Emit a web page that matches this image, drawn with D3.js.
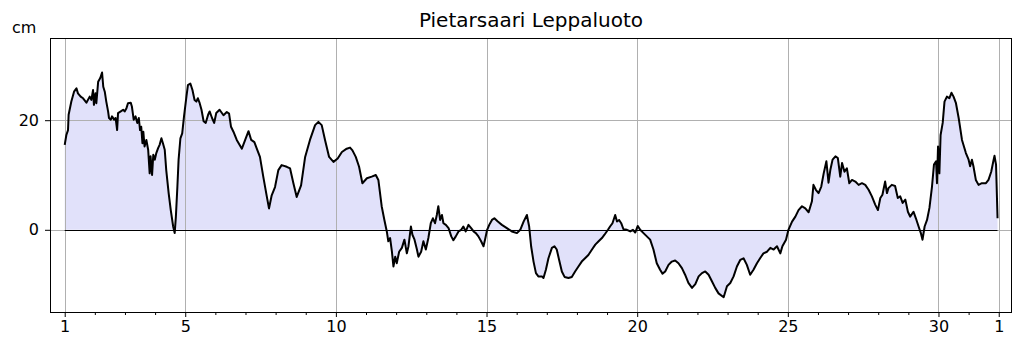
<!DOCTYPE html>
<html><head><meta charset="utf-8">
<script src="https://cdn.jsdelivr.net/npm/d3@7"></script>
<style>body{margin:0;background:#fff} text{font-family:"DejaVu Sans",sans-serif}</style>
</head><body><svg id="c" width="1024" height="352"></svg>
<script>
const chartTitle = "Pietarsaari Leppaluoto";
const unitLabel = "cm";
const xTickDays = [1,5,10,15,20,25,30,32];
const xTickLabels = ["1","5","10","15","20","25","30","1"];
const yTicks = [0,20];
// time in days of month (1 = start of day 1), water level in cm
const days = [
1.00,1.055,1.11,1.13,1.22,1.31,1.39,1.44,1.53,1.61,1.72,1.83,1.885,1.94,1.97,2.02,2.05,2.11,2.18,2.24,2.28,2.33,2.38,2.44,2.47,2.53,2.57,2.64,2.69,2.74,2.77,2.86,2.94,2.99,3.05,3.10,3.19,3.23,3.29,3.35,3.41,3.46,3.50,3.54,3.58,3.61,3.65,3.71,3.77,3.82,3.85,3.90,3.94,3.99,4.04,4.10,4.15,4.21,4.26,4.32,4.37,4.45,4.52,4.60,4.65,4.69,4.74,4.78,4.84,4.90,4.96,5.04,5.09,5.17,5.24,5.31,5.37,5.42,5.48,5.54,5.61,5.68,5.76,5.81,5.89,5.96,6.03,6.14,
6.27,6.38,6.455,6.52,6.60,6.71,6.88,6.99,7.10,7.19,7.295,7.375,7.48,7.59,7.71,7.78,7.87,7.98,8.09,8.20,8.37,8.48,8.59,8.70,8.845,8.98,9.14,9.31,9.42,9.53,9.64,9.775,9.92,10.06,10.20,10.36,10.47,10.55,10.66,10.77,10.88,11.03,11.19,11.325,11.41,
11.52,11.61,11.69,11.74,11.80,11.86,11.91,11.97,12.02,12.10,12.19,12.275,12.355,12.41,12.49,12.54,12.61,12.69,12.74,12.83,12.905,12.985,13.07,13.15,13.22,13.29,13.35,13.40,13.46,13.52,13.57,13.65,13.74,13.83,13.90,13.98,14.07,14.16,14.23,14.31,14.40,14.49,14.57,14.645,14.73,14.82,14.90,14.95,15.02,15.09,15.18,15.26,15.375,15.51,15.675,15.84,16.01,16.12,16.23,16.34,16.415,16.48,16.56,16.64,16.72,
16.84,16.89,16.97,17.055,17.17,17.255,17.33,17.41,17.50,17.59,17.72,17.83,17.94,18.05,18.16,18.27,18.38,18.50,18.61,18.72,18.83,18.915,19.03,19.10,19.18,19.27,19.33,19.40,19.47,19.545,19.66,19.77,19.86,19.935,20.02,20.10,20.21,20.32,20.43,20.54,20.65,20.76,20.84,20.93,21.04,21.15,21.26,21.37,21.485,21.59,21.70,21.82,21.93,22.04,
22.15,22.26,22.37,22.48,22.59,22.70,22.87,22.98,23.09,23.20,23.31,23.42,23.53,23.64,23.75,23.86,23.975,24.08,24.19,24.31,24.42,24.53,24.64,24.75,24.82,24.94,25.02,25.14,25.25,25.355,25.47,25.58,25.69,25.80,25.85,25.93,26.02,26.11,26.19,26.28,26.35,26.41,26.485,26.58,26.66,26.74,26.80,26.88,26.96,27.04,27.13,27.24,27.35,
27.46,27.57,27.68,27.79,27.90,27.99,28.07,28.14,28.23,28.29,28.34,28.45,28.56,28.65,28.73,28.81,28.90,28.985,29.06,29.17,29.25,29.34,29.42,29.47,29.54,29.62,29.70,29.785,29.85,29.92,29.95,29.985,30.03,30.07,30.14,30.20,30.28,30.36,30.43,30.50,30.58,30.67,30.78,30.91,31.00,31.05,31.11,31.16,31.24,31.33,31.44,31.575,31.66,31.75,31.82,31.86,31.91,31.96
];
const levels = [
15.5,17.3,18.2,21,23.4,25.2,25.8,24.9,24.3,24,23.2,24.3,23.7,25.5,22.8,24.9,23.1,27,27.7,28.7,26.1,25.2,23.4,21.6,20.4,20.1,20.7,20.1,20.4,18.2,21.3,21.6,21.9,21.6,22.2,23.1,23.2,22.5,20.1,20.7,19.5,20.4,18.2,18.8,15.8,17.9,15.2,16.4,14.6,10.3,13.4,10.0,13.7,12.8,14.0,14.9,15.5,16.7,15.8,14.6,10.9,6.7,3.6,0.6,-0.6,2.4,7.9,12.8,16.7,17.6,20.7,24.3,26.4,26.7,25.5,23.7,23.4,24,23.1,21.9,19.8,19.5,21,21.6,20.4,19.5,21.3,21.9,
20.9,21.5,21.2,18.8,17.9,16.4,14.8,16.4,18.0,16.4,16.0,14.8,13.3,9.7,6.0,3.9,6.3,7.8,10.9,11.8,11.5,11.2,8.5,6.0,8.1,13.3,16.4,19.1,19.7,19.1,16.4,13.3,12.4,13.0,14.2,14.8,15.0,14.5,13.3,11.5,8.5,9.4,9.7,10.0,9.1,
4.3,1.8,-0.3,-2.1,-1.5,-4.0,-6.7,-4.9,-6.1,-4.0,-3.3,-1.8,-4.3,-3.0,0.6,-0.9,-1.8,-3.6,-4.9,-4.0,-2.1,-3.6,-1.5,1.2,2.1,1.2,2.7,4.3,1.8,2.7,1.2,0.9,0.3,-1.2,-1.9,-1.2,-0.3,0,0.6,-0.3,0.9,0.3,-0.3,-0.6,-1.2,-2.1,-3.0,-1.8,0,0.9,1.8,2.1,1.5,0.9,0.3,-0.3,-0.6,0,1.5,2.7,0.6,-3.0,-5.8,-7.9,-8.5,
-8.5,-8.8,-7.3,-5.2,-3.3,-3.0,-3.6,-5.5,-7.6,-8.6,-8.8,-8.6,-7.6,-6.7,-5.8,-5.2,-4.6,-3.6,-2.7,-2.1,-1.5,-0.9,0,0.6,1.2,2.7,1.5,1.8,1.2,0.1,0,-0.3,0,-0.5,0.7,0,-0.6,-1.2,-1.8,-3.6,-6.1,-7.3,-8.0,-7.6,-6.4,-5.8,-5.6,-6.1,-7.0,-8.2,-9.7,-10.6,-9.9,-8.5,
-7.9,-7.6,-8.2,-9.4,-10.6,-11.6,-12.3,-10.3,-9.7,-8.5,-6.7,-5.5,-5.2,-6.4,-8.2,-7.3,-6.1,-5.2,-4.3,-4.0,-3.3,-3.6,-3.0,-4.3,-3.0,-1.8,0,1.5,2.4,3.6,4.3,3.9,3.2,5.2,8.2,7.3,6.7,7.9,10.3,12.5,8.6,10.9,12.8,13.4,13.1,9.7,12.2,10.6,11.2,8.5,9.1,8.8,8.2,
8.5,8.2,7.3,6.1,4.6,3.6,5.8,6.4,8.8,6.7,7.6,8.2,8.0,5.8,6.1,4.9,5.5,3.3,2.4,3.3,2.1,0.6,-0.7,-1.8,0.6,1.8,4.0,7.9,11.9,12.5,8.5,15.2,10.3,17.3,19.5,23.4,24.3,24.0,25.0,24.3,23.1,20.4,16.4,14.0,12.8,11.6,12.8,11.6,9.1,8.2,8.5,8.5,9.1,10.6,12.5,13.5,11.9,2.1
];

const svg = d3.select("#c");
const L = 50, R = 1012, T = 38, B = 312;
const x = d3.scaleLinear().domain([0.512, 32.44]).range([L, R]);
const y = d3.scaleLinear().domain([-15, 35]).range([B, T]);
const data = days.map((d, i) => ({t: d, v: levels[i]}));

// fill
svg.append("path").datum(data)
  .attr("fill", "#e1e1fa")
  .attr("d", d3.area().x(d => x(d.t)).y0(y(0)).y1(d => y(d.v)));

// grid
const grid = svg.append("g").attr("stroke", "#b0b0b0").attr("stroke-width", 1);
xTickDays.forEach(d => grid.append("line").attr("x1", Math.round(x(d))+0.5).attr("x2", Math.round(x(d))+0.5).attr("y1", T).attr("y2", B));
yTicks.forEach(v => grid.append("line").attr("x1", L).attr("x2", R).attr("y1", Math.round(y(v))+0.5).attr("y2", Math.round(y(v))+0.5));

// zero line
svg.append("line").attr("x1", x(days[0])).attr("x2", x(days[days.length-1]))
  .attr("y1", Math.round(y(0))+0.5).attr("y2", Math.round(y(0))+0.5)
  .attr("stroke", "#000").attr("stroke-width", 1.2);

// data line
svg.append("path").datum(data)
  .attr("fill", "none").attr("stroke", "#000").attr("stroke-width", 2)
  .attr("stroke-linejoin", "round")
  .attr("d", d3.line().x(d => x(d.t)).y(d => y(d.v)));

// axes
const xAxis = d3.axisBottom(x).tickValues(xTickDays).tickFormat((d, i) => xTickLabels[i]).tickSize(5).tickPadding(4);
const gx = svg.append("g").attr("transform", `translate(0,${B})`).call(xAxis);
const minorDays = d3.range(1, 33).filter(d => !xTickDays.includes(d));
svg.append("g").attr("transform", `translate(0,${B})`)
  .call(d3.axisBottom(x).tickValues(minorDays).tickFormat("").tickSize(3))
  .select(".domain").remove();
const gy = svg.append("g").attr("transform", `translate(${L},0)`)
  .call(d3.axisLeft(y).tickValues(yTicks).tickFormat(d3.format("d")).tickSize(5).tickPadding(6));
[gx, gy].forEach(g => { g.select(".domain").remove(); g.selectAll("text").attr("font-size", 16).attr("fill", "#000").attr("font-family", "DejaVu Sans"); });
svg.selectAll(".tick line").attr("stroke", "#000");

// frame
svg.append("rect").attr("x", L+0.5).attr("y", T+0.5).attr("width", R-L-1).attr("height", B-T)
  .attr("fill", "none").attr("stroke", "#000").attr("stroke-width", 1);

svg.append("text").attr("x", 531).attr("y", 27).attr("text-anchor", "middle")
  .attr("font-size", 20).text(chartTitle);
svg.append("text").attr("x", 12).attr("y", 33).attr("font-size", 16).text(unitLabel);
</script></body></html>
